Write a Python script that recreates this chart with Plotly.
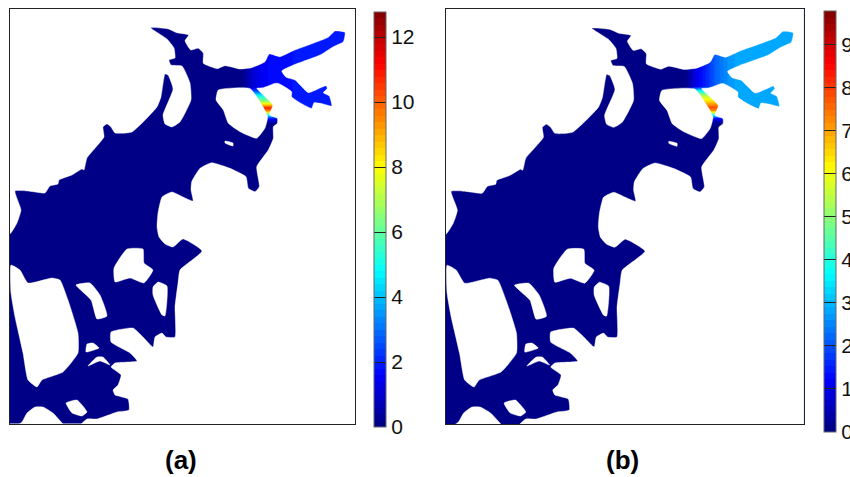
import plotly.graph_objects as go

# Page positions equal figure positions: the page margin is removed when the file is written.
PAGE = 0
W, H = 850, 477

# ---- map outline (map units), land north and east of the water body
COAST_X = [-8, 10, 17, 21, 15, 28, 45, 50, 58, 59, 72, 82, 84, 87, 104, 103, 107, 111, 115, 132, 157, 161, 165, 168,
           173, 163, 165, 172, 180, 191, 190, 182, 171, 169, 175, 174, 167, 150.7, 168.3, 176.7, 188.7, 185, 190.7,
           198.3, 203.3, 203.3, 217.3, 225, 240, 251.7, 265, 269.3, 280, 293.3, 313.3, 328.3, 335, 345, 343.3, 333.3,
           320, 293.3, 281.7, 286, 295, 308.3, 321.7, 326, 327.3, 323.3, 329.3, 331.7, 323.3, 314, 311.7,
           298.3, 291.7, 291.7, 278.3, 275, 263.3, 256.7, 272.7, 269.3, 277.3, 277.3, 273.3, 273.3, 268.3, 256.7,
           259.3, 255, 248.3, 246, 230, 211.7, 200, 191.7, 191, 193, 183, 172, 162, 158, 157, 159, 165, 173, 183, 202,
           180, 178, 175, 175, 166, 162, 155, 153, 143, 133, 111, 111, 130, 137, 115, 111, 121, 118, 113, 115, 128,
           129, 117, 97, 87, 78, 78, 500, 500, -8]
COAST_Y = [238, 234, 223, 210, 191, 191, 193, 186, 184, 180, 175, 169, 170, 158, 137, 127, 124, 127, 133, 132, 107, 97,
           74, 75, 89, 115, 124, 127, 122, 100, 83, 66, 65, 60, 58, 48, 39, 27.7, 29, 32.7, 35, 40.7, 50, 48.3, 53.3,
           63.3, 68.7, 65.7, 69, 67.7, 61.7, 54, 56.7, 50.7, 43.3, 37.3, 31, 32.3, 41.7, 46.7, 55, 65, 71, 77.3,
           80, 92.7, 87.3, 85.7, 88.3, 92.7, 96, 106, 104, 102.7, 108.3, 101.7, 96.7, 91.7, 83.3, 83.3, 87.7, 88.3,
           105, 115, 118.3, 123.3, 126.7, 138.3, 150, 166.7, 186.7, 191.7, 188.3, 176.7, 168.3, 162.7, 168.3, 181.7,
           190, 201, 197, 192, 197, 213, 227, 237, 244, 247, 239, 251, 270, 283, 307, 337, 337, 333, 337, 347, 337,
           328, 332, 342, 353, 361, 363, 367, 375, 385, 390, 395, 399, 410, 412, 419, 419, 428, 450, 450, -50, -50]
SOUTH_HILL_X = [70, 63, 53, 43, 35, 27, 22, 14, 14, 70]
SOUTH_HILL_Y = [432, 424, 413, 407, 407, 413, 422, 428, 450, 450]

# ---- land enclosed by water
ISLANDS = {
    "west": ([11, 20, 28, 52, 60, 68, 78, 78, 63, 42, 37, 28, 23, 15, 11],
             [265, 270, 283, 278, 280, 300, 333, 353, 372, 380, 387, 380, 353, 317, 293]),
    "centre": ([127, 143, 144, 153, 144, 130, 115, 114], [249, 249, 263, 270, 283, 278, 282, 268]),
    "east": ([158, 167, 165, 162, 153, 153], [282, 286, 316, 315, 295, 287]),
    "middle": ([76, 90, 100, 107, 97, 91], [285, 283, 295, 316, 319, 300]),
    "small1": ([87, 93, 99, 86], [344, 343, 348, 352]),
    "small2": ([88, 97, 103, 110, 100], [366, 357, 357, 365, 361]),
    "small3": ([66, 77, 87, 82, 72], [403, 400, 412, 416, 413]),
    "north": ([218.3, 250, 263.3, 267.7, 265, 256.7, 240, 228.3, 223.3, 216],
              [90, 88.5, 107.3, 116.7, 128, 138.3, 131.7, 123.3, 110, 100]),
    "islet": ([225, 233, 233, 225], [141, 143, 146, 143]),
}

# ---- field values
BASE = 0.05
ARM_X = [0, 240, 244, 248, 252, 256, 260, 264, 270, 276, 284, 300, 320, 365]
ARM_A = [BASE, BASE, 0.3, 0.7, 1.0, 1.2, 1.4, 1.5, 1.65, 1.7, 1.75, 1.85, 1.9, 1.95]
ARM_B = [BASE, BASE, 0.35, 0.7, 1.05, 1.3, 1.55, 1.8, 2.15, 2.4, 2.7, 2.9, 2.9, 2.9]
ROW_Y = [0, 86, 90, 95, 100, 103, 107, 110, 113, 115, 118, 122, 124, 435]
CANAL_A = [None, None, 2.5, 5.0, 6.5, 8.0, 10.8, 9.5, 6.0, 4.0, 1.5, 0.3, BASE, BASE]
CANAL_B = [None, None, 3.5, 5.3, 6.3, 6.9, 7.8, 7.2, 5.0, 3.5, 1.3, 0.3, BASE, BASE]
MAX_A, MAX_B = 12.77, 9.77
TICKS_A = [0, 2, 4, 6, 8, 10, 12]
TICKS_B = [0, 1, 2, 3, 4, 5, 6, 7, 8, 9]
CAPTIONS = ["(a)", "(b)"]


def field(arm, canal):
    rows = []
    for c in canal:
        if c is None:
            rows.append(list(arm))
        else:
            rows.append([BASE if x <= 244 else (c if x <= 280 else a) for x, a in zip(ARM_X, arm)])
    return rows


def jet64():
    out = []
    for i in range(64):
        v = (i + 0.5) / 64
        f = lambda t: max(0.0, min(1.0, t))
        r = f(min(4 * v - 1.5, -4 * v + 4.5))
        g = f(min(4 * v - 0.5, -4 * v + 3.5))
        b = f(min(4 * v + 0.5, -4 * v + 2.5))
        col = f"rgb({round(r * 255)},{round(g * 255)},{round(b * 255)})"
        out += [[i / 64, col], [(i + 1) / 64, col]]
    return out


FONT = "Liberation Sans, Arial, sans-serif"
fig = go.Figure()

def px_x(v):
    return (v - PAGE) / W

def px_y(v):
    return 1 - (v - PAGE) / H

def add_panel(suffix, arm, canal, caxis):
    xa, ya = "x" + suffix, "y" + suffix
    fig.add_trace(go.Heatmap(x=ARM_X, y=ROW_Y, z=field(arm, canal), coloraxis=caxis, zsmooth="best",
                             xaxis=xa, yaxis=ya, hoverinfo="skip"))
    for px, py in [(COAST_X, COAST_Y), (SOUTH_HILL_X, SOUTH_HILL_Y)] + list(ISLANDS.values()):
        fig.add_trace(go.Scatter(x=px + px[:1], y=py + py[:1], mode="lines", fill="toself", fillcolor="white",
                                 line=dict(color="white", width=0.4, shape="spline", smoothing=0.45),
                                 xaxis=xa, yaxis=ya, showlegend=False, hoverinfo="skip"))

add_panel("", ARM_A, CANAL_A, "coloraxis")
add_panel("2", ARM_B, CANAL_B, "coloraxis2")

def axis(dom, rng, anchor):
    return dict(domain=dom, range=rng, anchor=anchor, showticklabels=False, ticks="", showgrid=False, zeroline=False,
                showline=True, mirror=True, linecolor="#222", linewidth=1)

def cbar(x0, top, length, ticks):
    return dict(x=px_x(x0), xanchor="left", xpad=0, y=px_y(top), yanchor="top", ypad=0, len=length, lenmode="pixels",
                thickness=12, thicknessmode="pixels", outlinecolor="#666", outlinewidth=1, tickmode="array",
                tickvals=ticks, ticktext=[str(t) for t in ticks], ticks="inside", ticklen=12, tickcolor="#222",
                tickwidth=1, tickprefix="\u00a0", ticklabeloverflow="allow",
                tickfont=dict(family=FONT, size=21, color="#111"))

MAP_X, MAP_Y = [9.5, 355], [424, 8.5]
fig.update_layout(
    width=W, height=H, margin=dict(l=0, r=0, t=0, b=0, autoexpand=False), paper_bgcolor="white", plot_bgcolor="white",
    showlegend=False,
    xaxis=axis([px_x(9.5), px_x(355)], MAP_X, "y"),
    yaxis=axis([px_y(424), px_y(8.5)], MAP_Y, "x"),
    xaxis2=axis([px_x(445.5), px_x(803.5)], MAP_X, "y2"),
    yaxis2=axis([px_y(424), px_y(9)], MAP_Y, "x2"),
    coloraxis=dict(cmin=0, cmax=MAX_A, colorscale=jet64(), colorbar=cbar(374, 12, 415, TICKS_A)),
    coloraxis2=dict(cmin=0, cmax=MAX_B, colorscale=jet64(), colorbar=cbar(823.5, 11, 421, TICKS_B)),
    annotations=[dict(text=f"<b>{t}</b>", x=px_x(cx), y=px_y(460), xref="paper", yref="paper", showarrow=False,
                      xanchor="center", yanchor="middle", font=dict(family=FONT, size=26, color="#000"))
                 for t, cx in zip(CAPTIONS, [181, 622])],
)
fig.write_html("out.html", config={"displayModeBar": False},
               post_script="document.body.style.margin='0';document.documentElement.style.overflow='hidden';")
